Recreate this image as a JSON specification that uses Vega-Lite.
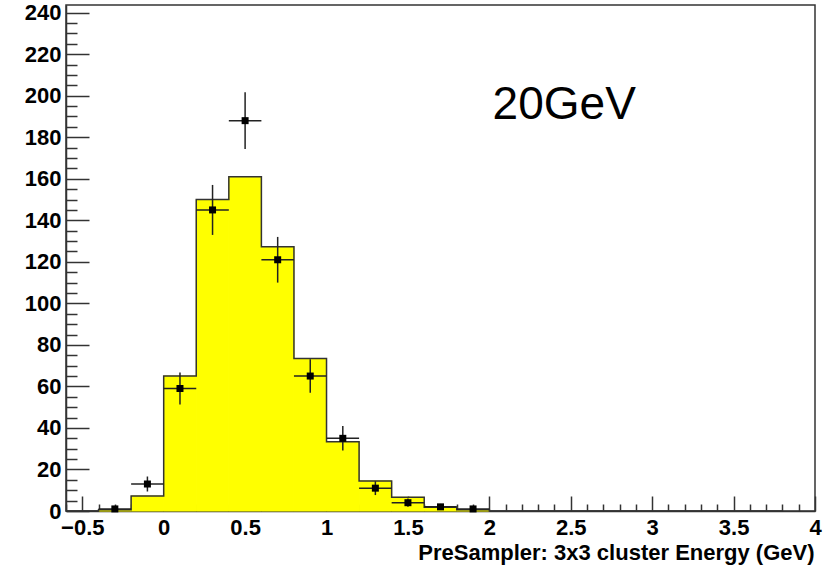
{
  "$schema": "https://vega.github.io/schema/vega-lite/v6.json",
  "width": 749,
  "height": 506,
  "autosize": {"type": "none"},
  "padding": {"left": 66, "top": 5, "right": 17, "bottom": 60},
  "background": "white",
  "config": {
    "view": {"stroke": "#333333", "strokeWidth": 1.5},
    "font": "Liberation Sans",
    "axis": {
      "labelFont": "Liberation Sans",
      "labelFontWeight": "bold",
      "labelFontSize": 22,
      "labelColor": "black",
      "titleFont": "Liberation Sans",
      "titleFontWeight": "bold",
      "titleColor": "black",
      "domainColor": "#333333",
      "domainWidth": 1.5,
      "tickColor": "#333333",
      "tickWidth": 1.5,
      "grid": false
    }
  },
  "datasets": {
    "hist": [
      {"x0": -0.6, "x1": -0.4, "mc": 0},
      {"x0": -0.4, "x1": -0.2, "mc": 0.6},
      {"x0": -0.2, "x1": 0.0, "mc": 7.2},
      {"x0": 0.0, "x1": 0.2, "mc": 65},
      {"x0": 0.2, "x1": 0.4, "mc": 150},
      {"x0": 0.4, "x1": 0.6, "mc": 161},
      {"x0": 0.6, "x1": 0.8, "mc": 127.3},
      {"x0": 0.8, "x1": 1.0, "mc": 73.4},
      {"x0": 1.0, "x1": 1.2, "mc": 33.4},
      {"x0": 1.2, "x1": 1.4, "mc": 14.5},
      {"x0": 1.4, "x1": 1.6, "mc": 6.6},
      {"x0": 1.6, "x1": 1.8, "mc": 1.8},
      {"x0": 1.8, "x1": 2.0, "mc": 0.6},
      {"x0": 2.0, "x1": 2.2, "mc": 0},
      {"x0": 2.2, "x1": 2.4, "mc": 0},
      {"x0": 2.4, "x1": 2.6, "mc": 0},
      {"x0": 2.6, "x1": 2.8, "mc": 0},
      {"x0": 2.8, "x1": 3.0, "mc": 0},
      {"x0": 3.0, "x1": 3.2, "mc": 0},
      {"x0": 3.2, "x1": 3.4, "mc": 0},
      {"x0": 3.4, "x1": 3.6, "mc": 0},
      {"x0": 3.6, "x1": 3.8, "mc": 0},
      {"x0": 3.8, "x1": 4.0, "mc": 0}
    ],
    "points": [
      {"x": -0.3, "xlo": -0.4, "xhi": -0.2, "n": 1, "lo": 0, "hi": 2},
      {"x": -0.1, "xlo": -0.2, "xhi": 0.0, "n": 13, "lo": 9.39, "hi": 16.61},
      {"x": 0.1, "xlo": 0.0, "xhi": 0.2, "n": 59, "lo": 51.32, "hi": 66.68},
      {"x": 0.3, "xlo": 0.2, "xhi": 0.4, "n": 145, "lo": 132.96, "hi": 157.04},
      {"x": 0.5, "xlo": 0.4, "xhi": 0.6, "n": 188, "lo": 174.29, "hi": 201.71},
      {"x": 0.7, "xlo": 0.6, "xhi": 0.8, "n": 121, "lo": 110, "hi": 132},
      {"x": 0.9, "xlo": 0.8, "xhi": 1.0, "n": 65, "lo": 56.94, "hi": 73.06},
      {"x": 1.1, "xlo": 1.0, "xhi": 1.2, "n": 35, "lo": 29.08, "hi": 40.92},
      {"x": 1.3, "xlo": 1.2, "xhi": 1.4, "n": 11, "lo": 7.68, "hi": 14.32},
      {"x": 1.5, "xlo": 1.4, "xhi": 1.6, "n": 4, "lo": 2, "hi": 6},
      {"x": 1.7, "xlo": 1.6, "xhi": 1.8, "n": 2, "lo": 0.59, "hi": 3.41},
      {"x": 1.9, "xlo": 1.8, "xhi": 2.0, "n": 1, "lo": 0, "hi": 2}
    ],
    "label": [
      {"x": 2.02, "y": 189, "text": "20GeV"}
    ]
  },
  "resolve": {"axis": {"x": "independent", "y": "independent"}},
  "layer": [
    {
      "data": {"name": "hist"},
      "transform": [{"filter": "datum.mc > 0"}],
      "mark": {"type": "bar", "color": "#ffff00", "stroke": "#ffff00", "strokeWidth": 1},
      "encoding": {
        "x": {
          "field": "x0", "type": "quantitative",
          "scale": {"domain": [-0.6, 4], "nice": false, "zero": false},
          "axis": {
            "orient": "bottom",
            "values": [-0.5, 0, 0.5, 1, 1.5, 2, 2.5, 3, 3.5, 4],
            "format": "~g",
            "tickSize": -15,
            "labelPadding": 21,
            "labelFontSize": 22,
            "labelFlush": false,
            "labelOverlap": false,
            "title": "PreSampler: 3x3 cluster Energy (GeV)",
            "titleFontSize": 22,
            "titleAnchor": "end",
            "titleAlign": "right",
            "titleBaseline": "alphabetic",
            "titleX": 748,
            "titleY": 48
          }
        },
        "x2": {"field": "x1"},
        "y": {
          "field": "mc", "type": "quantitative",
          "scale": {"domain": [0, 243.7], "nice": false},
          "axis": {
            "orient": "left",
            "values": [0, 20, 40, 60, 80, 100, 120, 140, 160, 180, 200, 220, 240],
            "tickSize": -23,
            "labelPadding": 28,
            "labelFontSize": 22,
            "labelOverlap": false,
            "labelFlush": false,
            "title": null
          }
        },
        "y2": {"datum": 0}
      }
    },
    {
      "data": {"name": "hist"},
      "mark": {"type": "line", "interpolate": "step-after", "color": "#333333", "strokeWidth": 1.5},
      "encoding": {
        "x": {
          "field": "x0", "type": "quantitative",
          "axis": {
            "orient": "bottom",
            "values": [-0.6, -0.4, -0.3, -0.2, -0.1, 0.1, 0.2, 0.3, 0.4, 0.6, 0.7, 0.8, 0.9, 1.1, 1.2, 1.3, 1.4, 1.6, 1.7, 1.8, 1.9, 2.1, 2.2, 2.3, 2.4, 2.6, 2.7, 2.8, 2.9, 3.1, 3.2, 3.3, 3.4, 3.6, 3.7, 3.8, 3.9],
            "tickSize": -7,
            "labels": false,
            "domain": false,
            "title": null
          }
        },
        "y": {
          "field": "mc", "type": "quantitative",
          "axis": {
            "orient": "left",
            "values": [5, 10, 15, 25, 30, 35, 45, 50, 55, 65, 70, 75, 85, 90, 95, 105, 110, 115, 125, 130, 135, 145, 150, 155, 165, 170, 175, 185, 190, 195, 205, 210, 215, 225, 230, 235],
            "tickSize": -11,
            "labels": false,
            "domain": false,
            "title": null
          }
        }
      }
    },
    {
      "data": {"name": "points"},
      "mark": {"type": "rule", "color": "#222222", "strokeWidth": 1.5},
      "encoding": {
        "x": {"field": "x", "type": "quantitative", "axis": null},
        "y": {"field": "lo", "type": "quantitative", "axis": null},
        "y2": {"field": "hi"}
      }
    },
    {
      "data": {"name": "points"},
      "mark": {"type": "rule", "color": "#222222", "strokeWidth": 1.5},
      "encoding": {
        "x": {"field": "xlo", "type": "quantitative", "axis": null},
        "x2": {"field": "xhi"},
        "y": {"field": "n", "type": "quantitative", "axis": null}
      }
    },
    {
      "data": {"name": "points"},
      "mark": {"type": "point", "shape": "square", "filled": true, "color": "black", "size": 49, "opacity": 1},
      "encoding": {
        "x": {"field": "x", "type": "quantitative", "axis": null},
        "y": {"field": "n", "type": "quantitative", "axis": null}
      }
    },
    {
      "data": {"name": "label"},
      "mark": {"type": "text", "font": "Liberation Sans", "fontSize": 46, "align": "left", "baseline": "alphabetic", "color": "black"},
      "encoding": {
        "x": {"field": "x", "type": "quantitative", "axis": null},
        "y": {"field": "y", "type": "quantitative", "axis": null},
        "text": {"field": "text"}
      }
    }
  ]
}
